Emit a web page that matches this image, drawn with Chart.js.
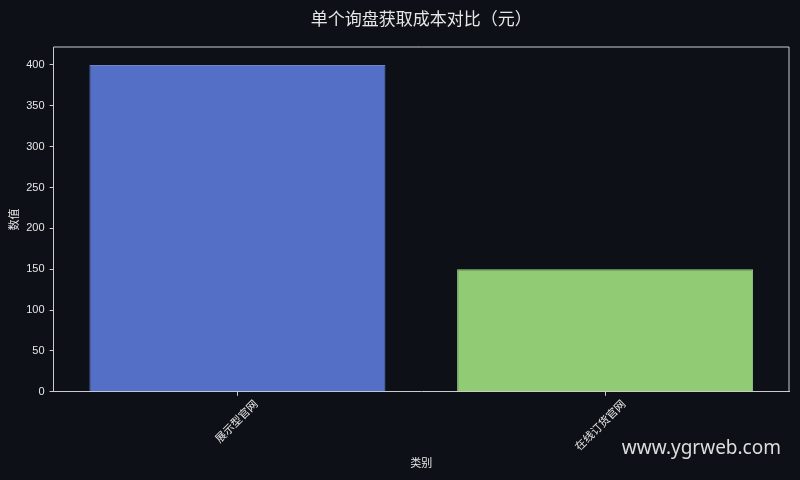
<!DOCTYPE html>
<html>
<head>
<meta charset="utf-8">
<script src="https://cdn.jsdelivr.net/npm/chart.js@4"></script>
<style>
  html, body { margin: 0; padding: 0; background: #0d1017; }
  #wrap { width: 800px; height: 480px; position: relative; }
</style>
</head>
<body>
<div id="wrap"><canvas id="barChart"></canvas></div>
<script>
const categories = ['展示型官网', '在线订货官网'];
const values = [400, 150];
const barColors = ['#5470c6', '#91cc75'];
const edgeColors = ['#6a84d2', '#a0d488'];
const yTicks = [0, 50, 100, 150, 200, 250, 300, 350, 400];
const chartTitle = '单个询盘获取成本对比（元）';

const FONT = "'Liberation Sans', 'Noto Sans CJK SC', sans-serif";
const TEXT = '#e6e6e6';
const AXIS = '#cccccc';

const ctx = document.getElementById('barChart').getContext('2d');

// 标题居中于绘图区, 上边和右边的边框, 水印
const framePlugin = {
    id: 'frame',
    afterDraw(chart) {
        const { ctx, chartArea: a } = chart;
        ctx.save();
        ctx.strokeStyle = AXIS;
        ctx.lineWidth = 1;
        ctx.beginPath();
        ctx.moveTo(a.left, a.top);
        ctx.lineTo(a.right, a.top);
        ctx.lineTo(a.right, a.bottom);
        ctx.stroke();

        ctx.fillStyle = TEXT;
        ctx.font = "17px 'Noto Sans CJK SC', sans-serif";
        ctx.textAlign = 'center';
        ctx.textBaseline = 'middle';
        ctx.fillText(chartTitle, (a.left + a.right) / 2, 19);

        ctx.fillStyle = '#dddddd';
        ctx.font = "19px 'Noto Sans', sans-serif";
        ctx.textAlign = 'right';
        ctx.fillText('www.ygrweb.com', 781, 449);
        ctx.restore();
    }
};

const data = {
    labels: categories,
    datasets: [{
        label: '数值',
        data: values,
        backgroundColor: barColors,
        borderColor: edgeColors,
        borderWidth: 1,
        barPercentage: 0.805,
        categoryPercentage: 1.0
    }]
};

const config = {
    type: 'bar',
    data: data,
    plugins: [framePlugin],
    options: {
        responsive: false,
        animation: false,
        layout: { padding: { left: 8, right: 11, top: 47, bottom: 5 } },
        plugins: {
            legend: { display: false },
            tooltip: { enabled: false },
            title: { display: false }
        },
        scales: {
            x: {
                offset: true,
                grid: { offset: false, drawOnChartArea: false, drawTicks: true, tickLength: 4, color: AXIS },
                border: { display: true, color: AXIS },
                ticks: { color: TEXT, font: { family: FONT, size: 11 }, minRotation: 45, maxRotation: 45, padding: 2, labelOffset: 19 },
                title: { display: true, text: '类别', color: TEXT, font: { family: FONT, size: 11 }, padding: { top: 2 } }
            },
            y: {
                min: 0,
                max: 422,
                afterBuildTicks: axis => {
                    axis.ticks = yTicks.map(v => ({ value: v }));
                },
                grid: { drawOnChartArea: false, drawTicks: true, tickLength: 4, color: AXIS },
                border: { display: true, color: AXIS },
                ticks: { color: TEXT, font: { family: FONT, size: 11 }, padding: 5 },
                title: { display: true, text: '数值', color: TEXT, font: { family: FONT, size: 11 }, padding: { top: 0, bottom: 0 } }
            }
        }
    }
};

const canvas = document.getElementById('barChart');
canvas.width = 800;
canvas.height = 480;
new Chart(ctx, config);
</script>
</body>
</html>
